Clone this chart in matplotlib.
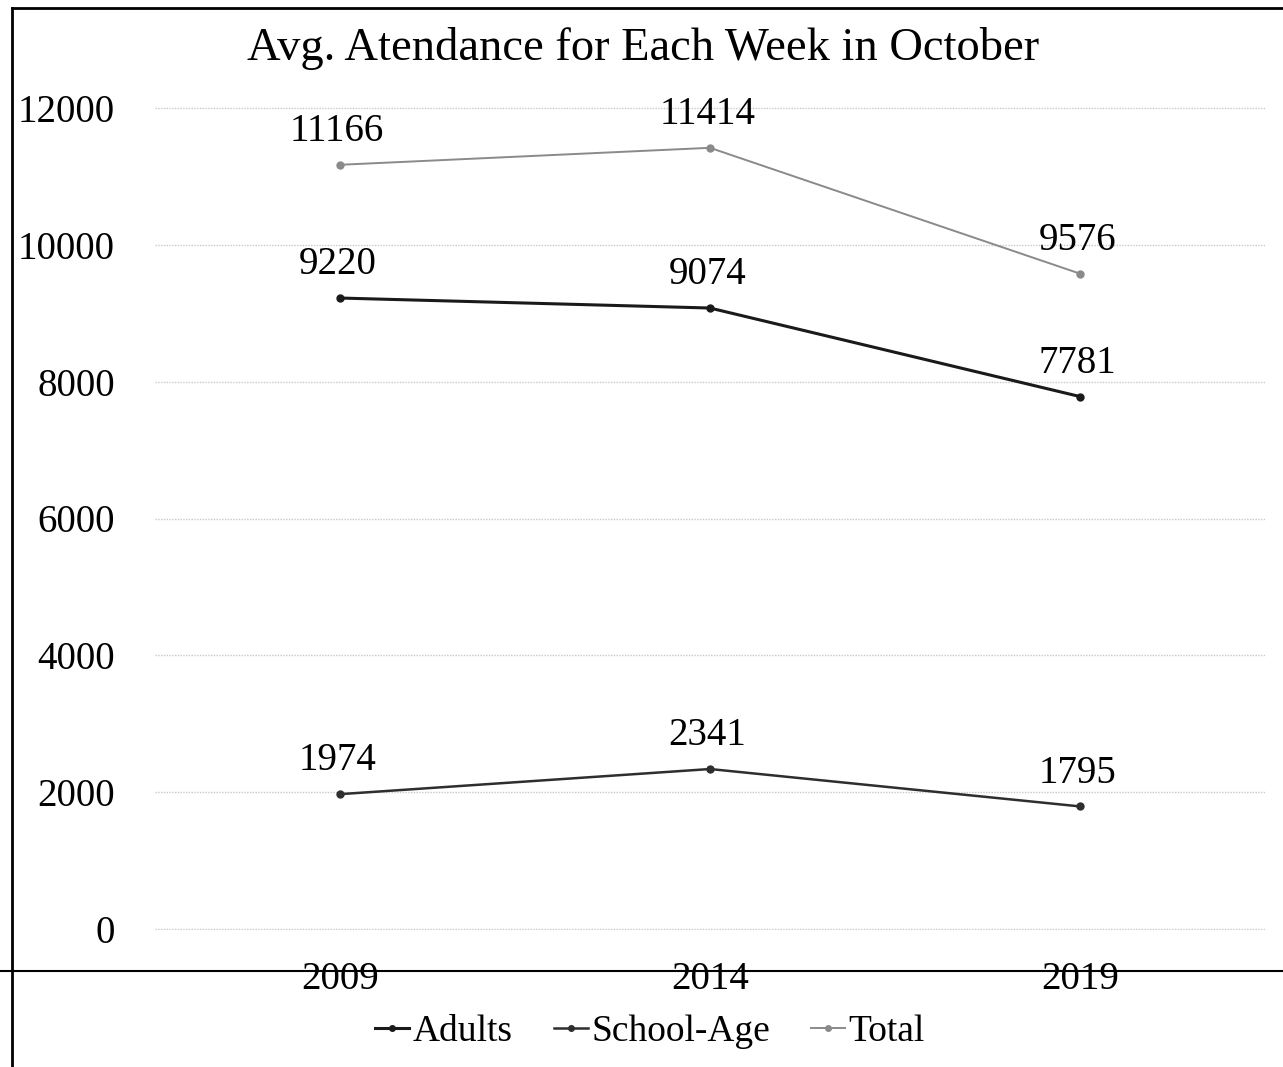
import matplotlib.pyplot as plt
from matplotlib.lines import Line2D

years = ["2009", "2014", "2019"]
adults = [9220, 9074, 7781]
school_age = [1974, 2341, 1795]
total = [11166, 11414, 9576]
y_ticks = [0, 2000, 4000, 6000, 8000, 10000, 12000]

plt.rcParams["font.family"] = ["Liberation Serif", "DejaVu Serif"]

W, H = 1283, 1067
fig = plt.figure(figsize=(W / 100, H / 100), dpi=100)
ax = fig.add_axes([155 / W, 1 - 930 / H, 1110 / W, 823 / H])

x = list(range(len(years)))
series = [
    ("Adults", adults, "#1a1a1a", 2.2),
    ("School-Age", school_age, "#2e2e2e", 1.8),
    ("Total", total, "#8a8a8a", 1.4),
]
for name, vals, col, lw in series:
    ax.plot(x, vals, color=col, lw=lw, marker="o", markersize=5, label=name, clip_on=False, zorder=3)
    for xi, v in zip(x, vals):
        ax.annotate(str(v), (xi, v), xytext=(-2, 24), textcoords="offset points",
                    ha="center", va="center", fontsize=28, color="black")

ax.set_xlim(-0.5, 2.5)
ax.set_ylim(-10, 12010)
ax.set_yticks(y_ticks)
ax.set_yticklabels([str(t) for t in y_ticks], fontsize=28)
ax.set_xticks(x)
ax.set_xticklabels(years, fontsize=28)
ax.tick_params(length=0)
ax.tick_params(axis="y", pad=29)
ax.tick_params(axis="x", pad=22)
for s in ax.spines.values():
    s.set_visible(False)
ax.grid(axis="y", color="#c8c8c8", linestyle=(0, (1, 1)), lw=1)
ax.set_axisbelow(True)

fig.text(643 / W, 1 - 48 / H, "Avg. Atendance for Each Week in October", ha="center", va="center", fontsize=33.5)

# scanned page frame lines
fig.add_artist(Line2D([12 / W, 12 / W], [0, 1 - 8 / H], color="black", lw=2))
fig.add_artist(Line2D([12 / W, 1], [1 - 8 / H, 1 - 8 / H], color="black", lw=2))
fig.add_artist(Line2D([0, 1], [1 - 971 / H, 1 - 971 / H], color="black", lw=1.5, zorder=0))

fig.legend(loc="center", bbox_to_anchor=(650 / W, 1 - 1032 / H), ncol=3, frameon=False,
           fontsize=27, handlelength=0.9, handletextpad=0.1, columnspacing=1.1, markerscale=0.8)

fig.savefig("out.png", dpi=100)
